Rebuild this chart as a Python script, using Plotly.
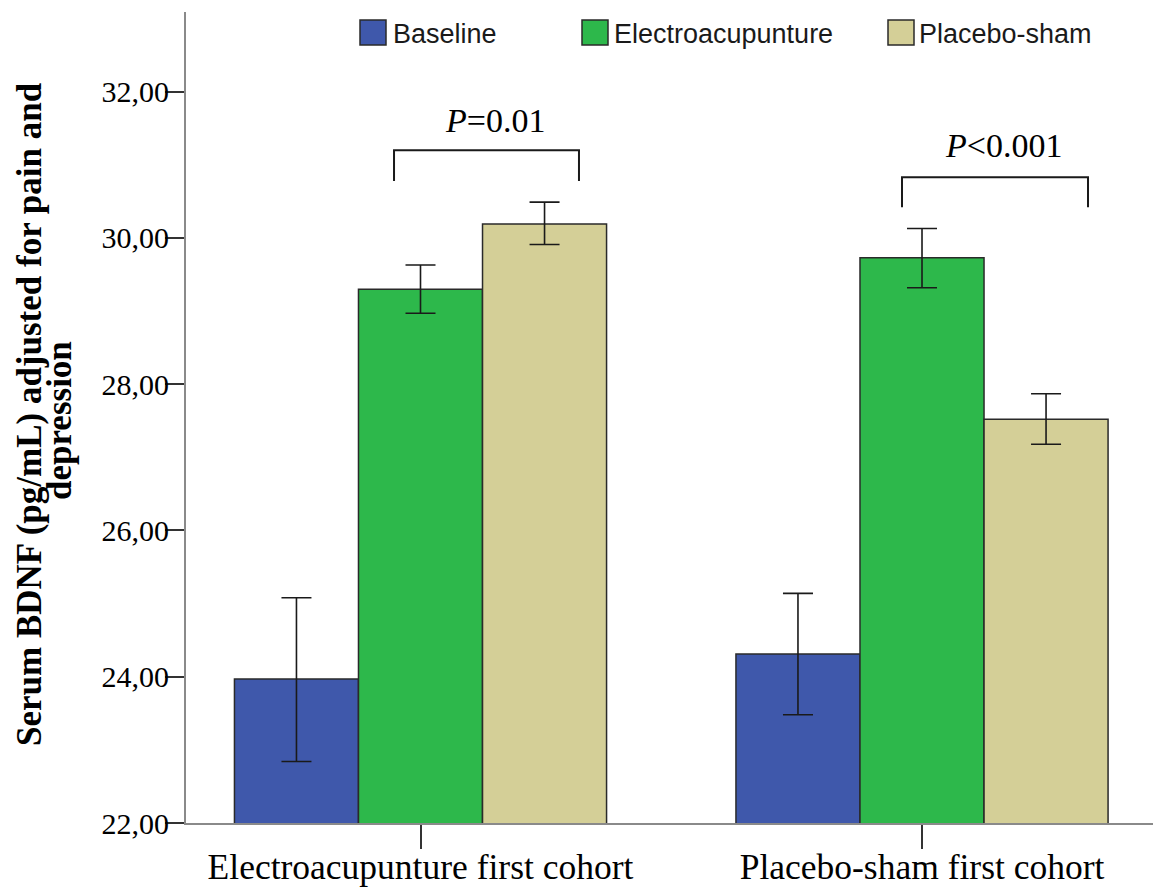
import plotly.graph_objects as go

# ---------------- data ----------------
categories = ["Electroacupunture first cohort", "Placebo-sham first cohort"]
series_names = ["Baseline", "Electroacupunture", "Placebo-sham"]

baseline_mean = [23.97, 24.31]
baseline_upper = [25.08, 25.14]
baseline_lower = [22.84, 23.48]

electro_mean = [29.30, 29.73]
electro_upper = [29.63, 30.13]
electro_lower = [28.97, 29.32]

placebo_mean = [30.19, 27.52]
placebo_upper = [30.49, 27.87]
placebo_lower = [29.91, 27.18]

y_tick_values = [22, 24, 26, 28, 30, 32]
y_tick_labels = ["22,00", "24,00", "26,00", "28,00", "30,00", "32,00"]

p_labels = ["<i>P</i>=0.01", "<i>P</i><0.001"]

# ---------------- styling ----------------
colors = ["#3F58AB", "#2DB84B", "#D4CF97"]
SERIF = "Liberation Serif, Times New Roman, serif"
SANS = "Liberation Sans, Arial, sans-serif"

W, H = 1153, 890
ML, MR, MT, MB = 186, 0, 12, 67
PW, PH = W - ML - MR, H - MT - MB


def px_x(p):
    return (p - ML) / PW


def px_y(p):
    return (H - MB - p) / PH


series = [
    (baseline_mean, baseline_upper, baseline_lower),
    (electro_mean, electro_upper, electro_lower),
    (placebo_mean, placebo_upper, placebo_lower),
]

fig = go.Figure()
for name, color, (mean, up, lo) in zip(series_names, colors, series):
    fig.add_trace(go.Bar(
        x=categories,
        y=mean,
        name=name,
        marker=dict(color=color, line=dict(color="#2a2a2a", width=1.5)),
        error_y=dict(
            type="data",
            symmetric=False,
            array=[u - m for u, m in zip(up, mean)],
            arrayminus=[m - l for m, l in zip(mean, lo)],
            color="#1a1a1a",
            thickness=1.6,
            width=15,
        ),
        showlegend=False,
    ))

fig.update_layout(
    width=W, height=H,
    margin=dict(l=ML, r=MR, t=MT, b=MB, pad=0, autoexpand=False),
    paper_bgcolor="white", plot_bgcolor="white",
    barmode="group", bargap=0.258, bargroupgap=0,
    xaxis=dict(
        range=[-0.4676, 1.4606],
        automargin=False,
        showgrid=False, zeroline=False,
        showline=True, linecolor="#8a8a8a", linewidth=2,
        ticks="outside", ticklen=24, tickwidth=1.5, tickcolor="#333333",
        tickfont=dict(family=SERIF, size=35.5, color="black"),
        ticklabelstandoff=-13,
    ),
    yaxis=dict(
        range=[22, 33.09],
        automargin=False,
        showgrid=False, zeroline=False,
        showline=True, linecolor="#8a8a8a", linewidth=2,
        ticks="outside", ticklen=19, tickwidth=2, tickcolor="#333333",
        tickvals=y_tick_values, ticktext=y_tick_labels,
        tickfont=dict(family=SERIF, size=30, color="black"),
        ticklabelstandoff=-10,
    ),
)

# significance brackets
brackets = [
    dict(x0=-0.0528, x1=0.3160, ytop=31.20, ybot=30.78, tx=0.1486, ty=31.60),
    dict(x0=0.9601, x1=1.3310, ytop=30.83, ybot=30.42, tx=1.1615, ty=31.26),
]
for b, lab in zip(brackets, p_labels):
    fig.add_shape(
        type="path",
        xref="x", yref="y",
        path=f"M {b['x0']},{b['ybot']} L {b['x0']},{b['ytop']} L {b['x1']},{b['ytop']} L {b['x1']},{b['ybot']}",
        line=dict(color="#1a1a1a", width=2),
    )
    fig.add_annotation(
        x=b["tx"], y=b["ty"], xref="x", yref="y",
        text=lab, showarrow=False,
        font=dict(family=SERIF, size=34, color="black"),
        xanchor="center", yanchor="middle",
    )

# custom legend
legend_items = [
    dict(bx0=360, bx1=386, tx=391),
    dict(bx0=582, bx1=608, tx=612),
    dict(bx0=888, bx1=914, tx=917),
]
for item, name, color in zip(legend_items, series_names, colors):
    fig.add_shape(
        type="rect", xref="paper", yref="paper",
        x0=px_x(item["bx0"]), x1=px_x(item["bx1"]),
        y0=px_y(45), y1=px_y(20),
        fillcolor=color, line=dict(color="#2a2a2a", width=1.5),
    )
    fig.add_annotation(
        x=px_x(item["tx"]), y=px_y(34), xref="paper", yref="paper",
        text=name, showarrow=False,
        font=dict(family=SANS, size=27, color="#1a1a1a"),
        xanchor="left", yanchor="middle",
    )

# y-axis title (two centered lines)
y_title_lines = ["Serum BDNF (pg/mL) adjusted for pain and", "depression"]
for line, cx, cy in zip(y_title_lines, [29, 59], [414, 420]):
    fig.add_annotation(
        x=px_x(cx), y=px_y(cy), xref="paper", yref="paper",
        text=f"<b>{line}</b>", showarrow=False, textangle=-90,
        font=dict(family=SERIF, size=35, color="black"),
        xanchor="center", yanchor="middle",
    )

fig.write_html("out.html")
